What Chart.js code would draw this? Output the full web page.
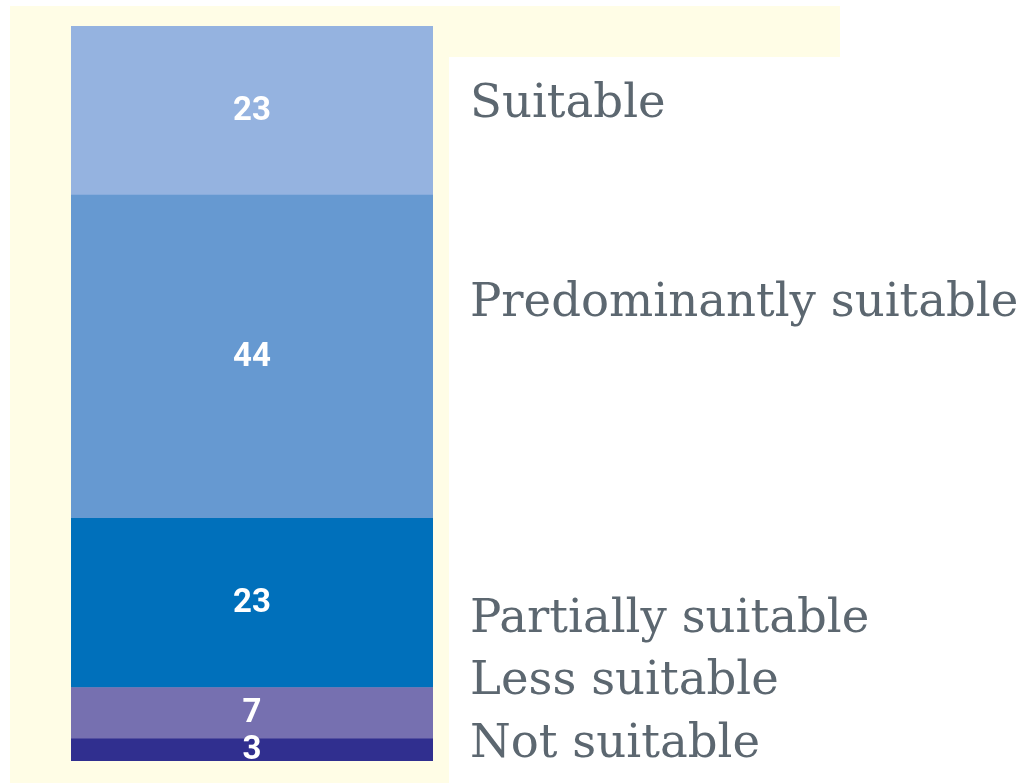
<!DOCTYPE html>
<html>
<head>
<meta charset="utf-8">
<script src="https://cdn.jsdelivr.net/npm/chart.js@4.4.1/dist/chart.umd.min.js"></script>
<style>
  html, body { margin: 0; padding: 0; background: #ffffff; }
  #wrap { position: relative; width: 1027px; height: 783px; overflow: hidden; }
  .cream { position: absolute; background: #fffde6; }
  canvas { position: absolute; left: 0; top: 0; }
</style>
</head>
<body>
<div id="wrap">
  <div class="cream" style="left:10px; top:6px; width:439px; height:777px;"></div>
  <div class="cream" style="left:449px; top:6px; width:391px; height:51px;"></div>
  <canvas id="chart" width="1027" height="783"></canvas>
</div>
<script>
// --- DATA (bottom to top) ---
const categories = ['Share'];
const seriesNames = ['Not suitable', 'Less suitable', 'Partially suitable', 'Predominantly suitable', 'Suitable'];
const seriesValues = [3, 7, 23, 44, 23];
const seriesColors = ['#302f8f', '#7670b0', '#0070bb', '#6699d1', '#95b3e0'];

// baseline of each side label (same order as seriesNames)
const labelBaselines = [757, 694, 632, 316, 117];

// value labels inside each segment
const valueLabels = {
  id: 'valueLabels',
  afterDatasetsDraw(chart) {
    const ctx = chart.ctx;
    ctx.save();
    ctx.font = 'bold 33px Roboto, "Liberation Sans", Arial, sans-serif';
    ctx.fillStyle = '#ffffff';
    ctx.textAlign = 'center';
    ctx.textBaseline = 'middle';
    chart.data.datasets.forEach((ds, i) => {
      const bar = chart.getDatasetMeta(i).data[0];
      const mid = (bar.y + bar.base) / 2;
      ctx.fillText(String(ds.data[0]), bar.x, mid + 1);
    });
    ctx.restore();
  }
};

// category names on the right
const sideLabels = {
  id: 'sideLabels',
  afterDraw(chart) {
    const ctx = chart.ctx;
    ctx.save();
    const family = '"DejaVu Serif", Georgia, serif';
    ctx.font = '50px ' + family;
    const w = ctx.measureText('Predominantly suitable').width;
    const size = Math.round(50 * 548 / w * 10) / 10;
    ctx.font = size + 'px ' + family;
    ctx.fillStyle = '#5c6770';
    ctx.textAlign = 'left';
    ctx.textBaseline = 'alphabetic';
    seriesNames.forEach((name, i) => {
      ctx.fillText(name, 470, labelBaselines[i]);
    });
    ctx.restore();
  }
};

const datasets = seriesNames.map((name, i) => ({
  label: name,
  data: [seriesValues[i]],
  backgroundColor: seriesColors[i],
  borderWidth: 0,
  barPercentage: 1,
  categoryPercentage: 1
}));

new Chart(document.getElementById('chart'), {
  type: 'bar',
  data: { labels: categories, datasets: datasets },
  options: {
    responsive: false,
    animation: false,
    layout: { padding: { left: 71, right: 594, top: 26, bottom: 22 } },
    plugins: { legend: { display: false }, tooltip: { enabled: false } },
    scales: {
      x: { stacked: true, display: false },
      y: { stacked: true, display: false, min: 0, max: 100 }
    }
  },
  plugins: [valueLabels, sideLabels]
});
</script>
</body>
</html>
